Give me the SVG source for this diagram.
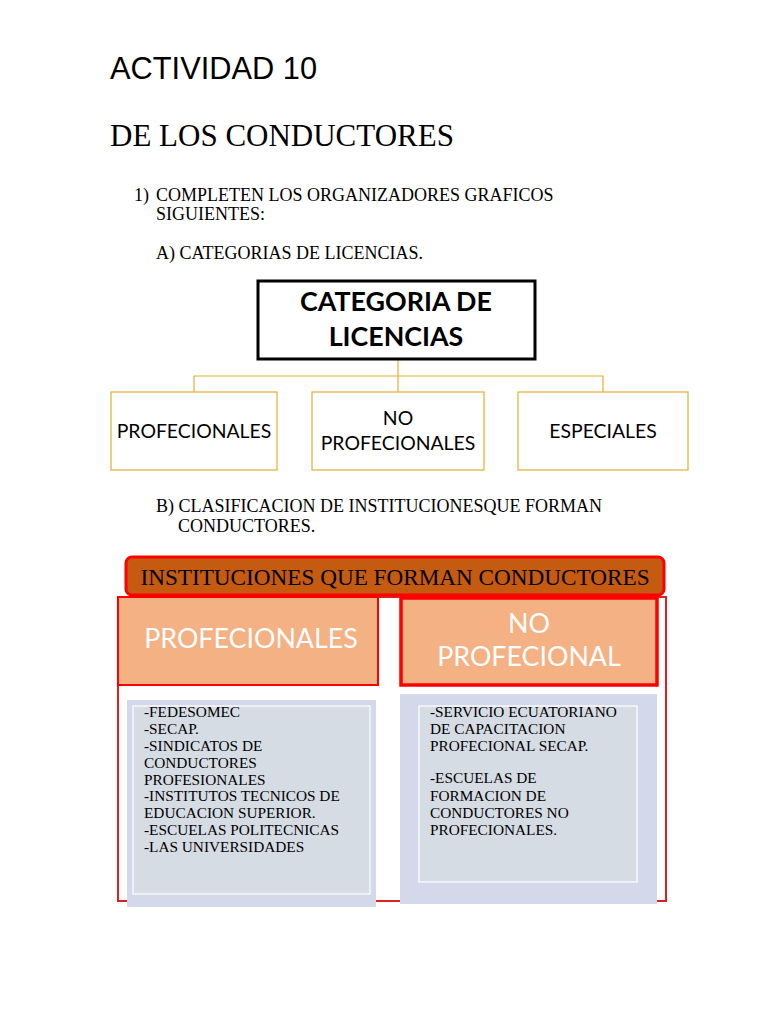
<svg xmlns="http://www.w3.org/2000/svg" width="768" height="1024" viewBox="0 0 768 1024">
<style>
.serif{font-family:"Liberation Serif","Times New Roman",serif;fill:#000}
.sans{font-family:"Liberation Sans",Arial,sans-serif;fill:#000}
.cal{font-family:Lato,"Open Sans",sans-serif}
.gold{fill:#fff;stroke:#E0B030;stroke-width:1.2}
.conn{fill:none;stroke:#E0B030;stroke-width:1.2}
.hdr{fill:#F4B183;stroke:#FF0000}
.htxt{font-family:Lato,"Open Sans",sans-serif;fill:#fff;font-size:26.8px;text-anchor:middle}
.body{font-family:"Liberation Serif","Times New Roman",serif;font-size:15.3px;fill:#000}
.lav{fill:#D3D8EA}
.inner{fill:#D6DCE4;stroke:#fff;stroke-width:1.2}
</style>
<rect width="768" height="1024" fill="#fff"/>
<g id="heading">
<text class="sans" x="110" y="79" font-size="30.8">ACTIVIDAD 10</text>
<text class="serif" x="110" y="146" font-size="31">DE LOS CONDUCTORES</text>
<text class="serif" x="134" y="201" font-size="18">1)</text>
<text class="serif" x="156" y="201" font-size="18">COMPLETEN LOS ORGANIZADORES GRAFICOS</text>
<text class="serif" x="156" y="220" font-size="18">SIGUIENTES:</text>
<text class="serif" x="156" y="259" font-size="18">A) CATEGORIAS DE LICENCIAS.</text>
<text class="serif" x="156" y="512" font-size="18">B) CLASIFICACION DE INSTITUCIONESQUE FORMAN</text>
<text class="serif" x="178" y="532" font-size="18">CONDUCTORES.</text>
</g>
<g id="connectors">
<path class="conn" d="M398 359 V376 M194 392 V376 H603 V392 M398 376 V392"/>
</g>
<g id="categoria">
<rect x="258" y="281" width="277" height="78" fill="#fff" stroke="#000" stroke-width="3"/>
<text class="cal" x="396" y="311" font-size="26.8" font-weight="bold" text-anchor="middle" fill="#000">CATEGORIA DE</text>
<text class="cal" x="396" y="346" font-size="26.8" font-weight="bold" text-anchor="middle" fill="#000">LICENCIAS</text>
</g>
<g id="profecionales">
<rect class="gold" x="111" y="392" width="166" height="78"/>
<text class="cal" x="194" y="438" font-size="19.4" text-anchor="middle" fill="#000">PROFECIONALES</text>
</g>
<g id="no-profecionales">
<rect class="gold" x="312" y="392" width="172" height="78"/>
<text class="cal" x="398" y="425" font-size="19.4" text-anchor="middle" fill="#000">NO</text>
<text class="cal" x="398" y="450" font-size="19.4" text-anchor="middle" fill="#000">PROFECIONALES</text>
</g>
<g id="especiales">
<rect class="gold" x="518" y="392" width="170" height="78"/>
<text class="cal" x="603" y="438" font-size="19.4" text-anchor="middle" fill="#000">ESPECIALES</text>
</g>
<g id="instituciones">
<rect x="118" y="597" width="548" height="304" fill="none" stroke="#E02020" stroke-width="2"/>
<rect x="126" y="557" width="538" height="38" rx="6" fill="#C55A11" stroke="#FF0000" stroke-width="3"/>
<text class="serif" x="395" y="585" font-size="23.2" text-anchor="middle">INSTITUCIONES QUE FORMAN CONDUCTORES</text>
</g>
<g id="prof-header">
<rect class="hdr" x="118" y="597" width="260" height="88" stroke-width="2"/>
<text class="htxt" x="251" y="648">PROFECIONALES</text>
</g>
<g id="noprof-header">
<rect class="hdr" x="401" y="598" width="256" height="87" stroke-width="3.5"/>
<text class="htxt" x="529" y="633">NO</text>
<text class="htxt" x="529" y="666">PROFECIONAL</text>
</g>
<g id="prof-list">
<rect class="lav" x="127" y="700" width="249" height="207"/>
<rect class="inner" x="133" y="706" width="237" height="188"/>
<text class="body" x="144" y="717">-FEDESOMEC</text>
<text class="body" x="144" y="734">-SECAP.</text>
<text class="body" x="144" y="751">-SINDICATOS DE</text>
<text class="body" x="144" y="768">CONDUCTORES</text>
<text class="body" x="144" y="785">PROFESIONALES</text>
<text class="body" x="144" y="801">-INSTITUTOS TECNICOS DE</text>
<text class="body" x="144" y="818">EDUCACION SUPERIOR.</text>
<text class="body" x="144" y="835">-ESCUELAS POLITECNICAS</text>
<text class="body" x="144" y="852">-LAS UNIVERSIDADES</text>
</g>
<g id="noprof-list">
<rect class="lav" x="400" y="694" width="257" height="210"/>
<rect class="inner" x="419" y="706" width="218" height="176"/>
<text class="body" x="430" y="717">-SERVICIO ECUATORIANO</text>
<text class="body" x="430" y="734">DE CAPACITACION</text>
<text class="body" x="430" y="751">PROFECIONAL SECAP.</text>
<text class="body" x="430" y="783">-ESCUELAS DE</text>
<text class="body" x="430" y="801">FORMACION DE</text>
<text class="body" x="430" y="818">CONDUCTORES NO</text>
<text class="body" x="430" y="835">PROFECIONALES.</text>
</g>
</svg>
